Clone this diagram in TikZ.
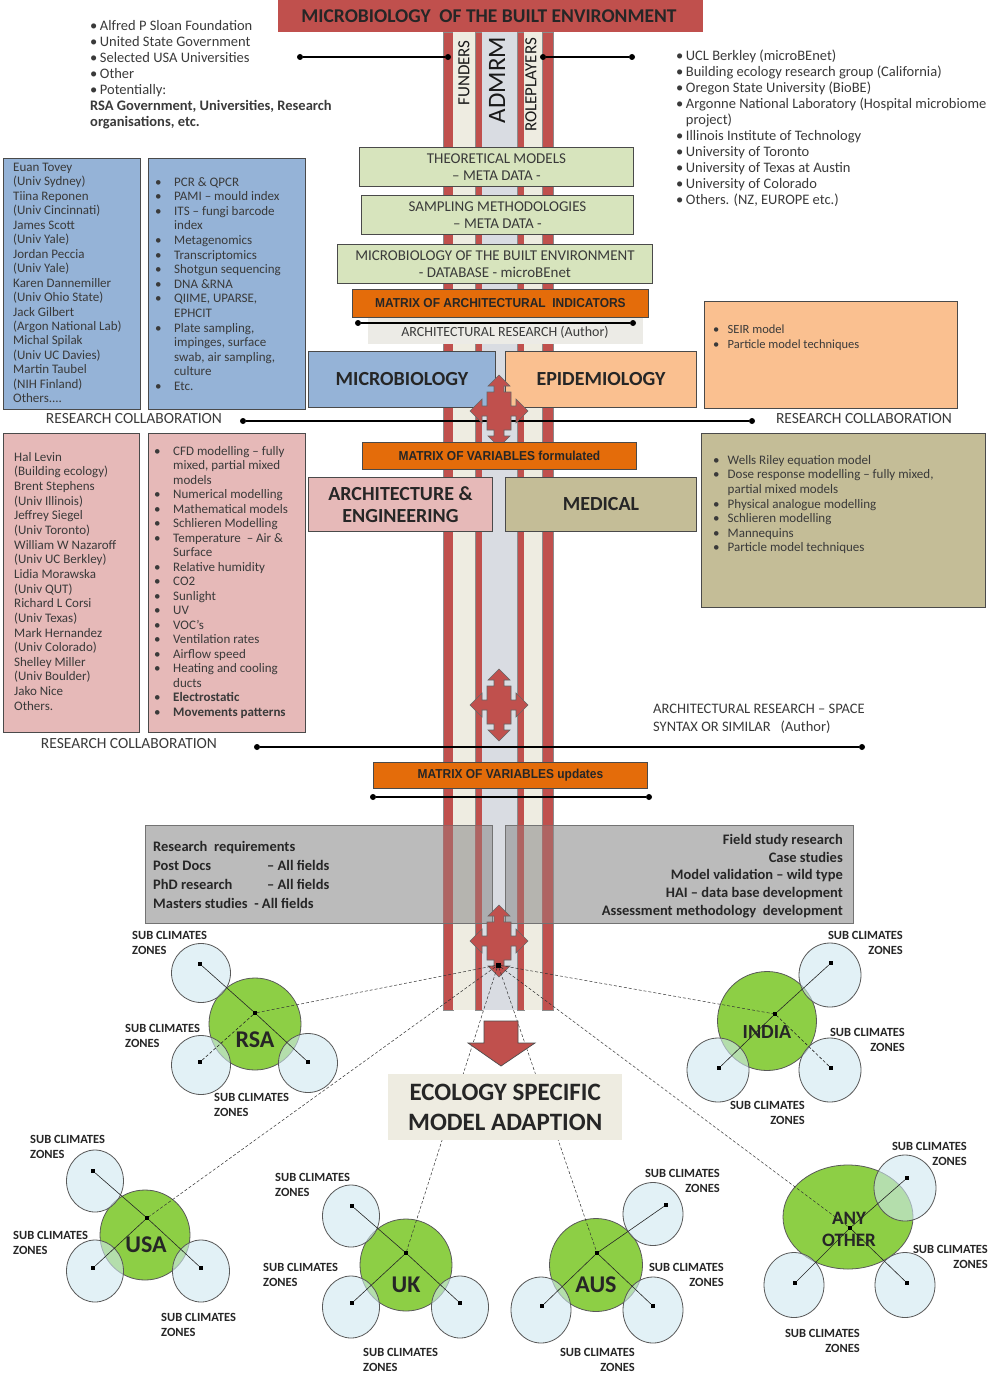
\documentclass[tikz,border=0pt]{standalone}
\usepackage{fontspec}
\setmainfont{Carlito}
\newfontfamily\arialf{Liberation Sans}
\usetikzlibrary{shapes.geometric}
\definecolor{redc}{HTML}{C0504D}
\definecolor{beigec}{HTML}{EEECE1}
\definecolor{colgrey}{HTML}{D9DCE2}
\definecolor{greenb}{HTML}{D7E4BD}
\definecolor{orangec}{HTML}{E46C0A}
\definecolor{bluebx}{HTML}{95B3D7}
\definecolor{peachc}{HTML}{FAC090}
\definecolor{pinkc}{HTML}{E6B9B8}
\definecolor{olivec}{HTML}{C4BD97}
\definecolor{grayb}{HTML}{8F8F8F}
\definecolor{greenc}{HTML}{8DCF45}
\definecolor{bluelc}{HTML}{CFE8F1}
\definecolor{txtc}{HTML}{3A3A3A}
\definecolor{bordc}{HTML}{4A4A4A}
\definecolor{archbg}{HTML}{ECEBE6}
\newcommand\fs[2]{\fontsize{#1}{#2}\selectfont}
\newcommand\bua{\makebox[19pt][l]{•}}
\newcommand\bxa{\hspace*{19pt}}
\newcommand\bub{\makebox[14.5pt][l]{•}}
\newcommand\bxb{\hspace*{14.5pt}}
\newcommand\orng[1]{\scalebox{0.92}[1]{\arialf\bfseries #1}}
\begin{document}
\begin{tikzpicture}[x=1pt,y=-1pt,
  lbl/.style={inner sep=0pt, text=txtc},
  boxn/.style={draw=bordc, line width=0.9pt, inner sep=0pt, anchor=north west},
  dotn/.style={circle, fill=black, inner sep=0pt, minimum size=6pt},
  sq/.style={fill=black, inner sep=0pt, minimum size=4pt},
  gcirc/.style={circle, draw=black!65, line width=0.8pt, fill=greenc, inner sep=0pt},
  gell/.style={ellipse, draw=black!65, line width=0.8pt, fill=greenc, inner sep=0pt},
  bcirc/.style={ellipse, draw=black!65, line width=0.8pt, fill=bluelc, fill opacity=0.6, inner sep=0pt},
  sub/.style={inner sep=0pt, font=\bfseries\fs{12.5}{15}, text=black!85},
  cty/.style={inner sep=0pt, font=\bfseries\fs{24}{26}, text=black!85},
  hubl/.style={densely dashed, line width=0.5pt, black!80},
  inl/.style={line width=0.6pt, black!85},
  conn/.style={line width=1.2pt, black},
  bar/.style={fill=redc, draw=black!45, line width=0.4pt},
  qarrow/.pic={\filldraw[fill=redc, draw=black!60, line width=0.6pt]
    (0,-36) -- (11,-25) -- (5,-25) -- (5,-19) -- (12,-19) -- (12,-5) -- (17,-5) -- (17,-12) -- (29,0) -- (17,12) -- (17,5) -- (12,5) -- (12,19) -- (5,19) -- (5,25) -- (11,25) -- (0,36) -- (-11,25) -- (-5,25) -- (-5,19) -- (-12,19) -- (-12,5) -- (-17,5) -- (-17,12) -- (-29,0) -- (-17,-12) -- (-17,-5) -- (-12,-5) -- (-12,-19) -- (-5,-19) -- (-5,-25) -- (-11,-25) -- cycle;}
]
\useasboundingbox (0,0) rectangle (988,1375);
\fill[white] (0,0) rectangle (988,1375);

% ---------- central column ----------
\filldraw[bar] (443,32) rectangle (453,1010);
\fill[beigec] (453,32) rectangle (475,1010);
\filldraw[bar] (475,32) rectangle (482,1010);
\fill[colgrey] (482,32) rectangle (517,1010);
\filldraw[bar] (517,32) rectangle (524,1010);
\fill[beigec] (524,32) rectangle (542,1010);
\filldraw[bar] (542,32) rectangle (553,1010);

% ---------- banner ----------
\node[fill=redc, inner sep=0pt, minimum width=425pt, minimum height=32pt, anchor=north west] (banner) at (278,0) {};
\node[inner sep=0pt, font=\bfseries\fs{19.5}{22}, text=black!85] (bannert) at (489,16) {MICROBIOLOGY\ \ OF THE BUILT ENVIRONMENT};

\node[lbl, rotate=90, font=\fs{17}{18}, text=black!90] (funders) at (464,73) {FUNDERS};
\node[lbl, rotate=90, font=\fs{25}{26}, text=black!90] (admrm) at (497,80) {ADMRM};
\node[lbl, rotate=90, font=\fs{17}{18}, text=black!90] (roleplayers) at (531,85) {ROLEPLAYERS};

% ---------- top texts ----------
\node[lbl, anchor=north west, align=left, font=\fs{14.5}{16}] (fundtxt) at (90,20) {•\hspace{2.5pt}Alfred P Sloan Foundation\\ •\hspace{2.5pt}United State Government\\ •\hspace{2.5pt}Selected USA Universities\\ •\hspace{2.5pt}Other\\ •\hspace{2.5pt}Potentially:\\ \textbf{RSA Government, Universities, Research}\\ \textbf{organisations, etc.}};
\node[lbl, anchor=north west, align=left, font=\fs{14.5}{16}] (roletxt) at (676,50) {•\hspace{2.5pt}UCL Berkley (microBEnet)\\ •\hspace{2.5pt}Building ecology research group (California)\\ •\hspace{2.5pt}Oregon State University (BioBE)\\ •\hspace{2.5pt}Argonne National Laboratory (Hospital microbiome\\ \phantom{•}\hspace{2.5pt}project)\\ •\hspace{2.5pt}Illinois Institute of Technology\\ •\hspace{2.5pt}University of Toronto\\ •\hspace{2.5pt}University of Texas at Austin\\ •\hspace{2.5pt}University of Colorado\\ •\hspace{2.5pt}Others. (NZ, EUROPE etc.)};
\node[dotn] (fd1) at (300,57) {};
\node[dotn] (fd2) at (448,57) {};
\draw[conn] (fd1) -- (fd2);
\node[dotn] (rd1) at (543,57) {};
\node[dotn] (rd2) at (632,57) {};
\draw[conn] (rd1) -- (rd2);

% ---------- green boxes ----------
\node[boxn, fill=greenb, minimum width=274pt, minimum height=39pt] (theo) at (359,147) {};
\node[lbl, align=center, font=\fs{15}{17.5}] (theot) at (theo.center) {THEORETICAL MODELS\\ – META DATA -};
\node[boxn, fill=greenb, minimum width=272pt, minimum height=39pt] (samp) at (361,195) {};
\node[lbl, align=center, font=\fs{15}{17.5}] (sampt) at (samp.center) {SAMPLING\ METHODOLOGIES\\ – META DATA -};
\node[boxn, fill=greenb, minimum width=315pt, minimum height=39pt] (mdb) at (337,244) {};
\node[lbl, align=center, font=\fs{15}{17.5}] (mdbt) at (mdb.center) {MICROBIOLOGY OF THE BUILT ENVIRONMENT\\ - DATABASE - microBEnet};

\node[boxn, fill=orangec, minimum width=296pt, minimum height=28pt] (mai) at (352,289) {};
\node[inner sep=0pt, font=\fs{13}{15}, text=black!85] (mait) at (mai.center) {\orng{MATRIX OF ARCHITECTURAL\ \ INDICATORS}};
\node[fill=archbg, inner sep=0pt, minimum width=275pt, minimum height=26pt, anchor=north west] (arch) at (368,318) {};
\node[lbl, font=\fs{14}{16}] (archt) at (505,332) {ARCHITECTURAL RESEARCH (Author)};
\node[dotn] (ad1) at (358,323) {};
\node[dotn] (ad2) at (633,323) {};
\draw[conn] (ad1) -- (ad2);

% ---------- research collaboration 1 ----------
\node[boxn, fill=bluebx, minimum width=137pt, minimum height=251pt] (blue1) at (3,158) {};
\node[lbl, anchor=north west, align=left, font=\fs{13}{14.45}] (blue1t) at (13,163) {Euan Tovey\\(Univ Sydney)\\Tiina Reponen\\(Univ Cincinnati)\\James Scott\\(Univ Yale)\\Jordan Peccia\\(Univ Yale)\\Karen Dannemiller\\(Univ Ohio State)\\Jack Gilbert\\(Argon National Lab)\\Michal Spilak\\(Univ UC Davies)\\Martin Taubel\\(NIH Finland)\\Others....};
\node[boxn, fill=bluebx, minimum width=157pt, minimum height=251pt] (blue2) at (148,158) {};
\node[lbl, anchor=north west, align=left, font=\fs{13}{14.6}] (blue2t) at (155,177) {\bua PCR \& QPCR\\ \bua PAMI – mould index\\ \bua ITS – fungi barcode\\ \bxa index\\ \bua Metagenomics\\ \bua Transcriptomics\\ \bua Shotgun sequencing\\ \bua DNA \&RNA\\ \bua QIIME, UPARSE,\\ \bxa EPHCIT\\ \bua Plate sampling,\\ \bxa impinges, surface\\ \bxa swab, air sampling,\\ \bxa culture\\ \bua Etc.};

\node[boxn, fill=peachc, minimum width=253pt, minimum height=107pt] (peach) at (704,301) {};
\node[lbl, anchor=north west, align=left, font=\fs{12.5}{15}] (peacht) at (713,325) {\bub SEIR model\\ \bub Particle model techniques};

\node[lbl, font=\fs{15.5}{17}] (rc1l) at (134,419) {RESEARCH COLLABORATION};
\node[lbl, font=\fs{15.5}{17}] (rc1r) at (864,419) {RESEARCH COLLABORATION};
\node[dotn] (rc1a) at (243,421) {};
\node[dotn] (rc1b) at (752,421) {};
\draw[conn] (rc1a) -- (rc1b);

\node[boxn, fill=bluebx, minimum width=187pt, minimum height=56pt] (micro) at (308,351) {};
\node[inner sep=0pt, font=\bfseries\fs{20}{22}, text=black!85] (microt) at (micro.center) {MICROBIOLOGY};
\node[boxn, fill=peachc, minimum width=191pt, minimum height=56pt] (epi) at (505,351) {};
\node[inner sep=0pt, font=\bfseries\fs{20}{22}, text=black!85] (epit) at (epi.center) {EPIDEMIOLOGY};
\pic at (499,411) {qarrow};

% ---------- research collaboration 2 ----------
\node[boxn, fill=pinkc, minimum width=136pt, minimum height=299pt] (pink1) at (3,433) {};
\node[lbl, anchor=north west, align=left, font=\fs{13}{14.65}] (pink1t) at (14,452) {Hal Levin\\(Building ecology)\\Brent Stephens\\(Univ Illinois)\\Jeffrey Siegel\\(Univ Toronto)\\William W Nazaroff\\(Univ UC Berkley)\\Lidia Morawska\\(Univ QUT)\\Richard L Corsi\\(Univ Texas)\\Mark Hernandez\\(Univ Colorado)\\Shelley Miller\\(Univ Boulder)\\Jako Nice\\Others.};
\node[boxn, fill=pinkc, minimum width=157pt, minimum height=299pt] (pink2) at (148,433) {};
\node[lbl, anchor=north west, align=left, font=\fs{13}{14.5}] (pink2t) at (154,446) {\bua CFD modelling – fully\\ \bxa mixed, partial mixed\\ \bxa models\\ \bua Numerical modelling\\ \bua Mathematical models\\ \bua Schlieren Modelling\\ \bua Temperature\ \ – Air \&\\ \bxa Surface\\ \bua Relative humidity\\ \bua CO2\\ \bua Sunlight\\ \bua UV\\ \bua VOC’s\\ \bua Ventilation rates\\ \bua Airflow speed\\ \bua Heating and cooling\\ \bxa ducts\\ \bua \textbf{Electrostatic}\\ \bua \textbf{Movements patterns}};

\node[boxn, fill=olivec, minimum width=284pt, minimum height=174pt] (olive) at (701,433) {};
\node[lbl, anchor=north west, align=left, font=\fs{13}{14.6}] (olivet) at (713,455) {\bub Wells Riley equation model\\ \bub Dose response modelling – fully mixed,\\ \bxb partial mixed models\\ \bub Physical analogue modelling\\ \bub Schlieren modelling\\ \bub Mannequins\\ \bub Particle model techniques};

\node[boxn, fill=orangec, minimum width=274pt, minimum height=27pt] (mvf) at (362,442) {};
\node[inner sep=0pt, font=\fs{13}{15}, text=black!85] (mvft) at (mvf.center) {\orng{MATRIX OF VARIABLES\ formulated}};
\node[boxn, fill=pinkc, minimum width=184pt, minimum height=54pt] (archeng) at (308,477) {};
\node[inner sep=0pt, align=center, font=\bfseries\fs{20}{21.5}, text=black!85] (archengt) at (archeng.center) {ARCHITECTURE \&\\ ENGINEERING};
\node[boxn, fill=olivec, minimum width=191pt, minimum height=54pt] (medical) at (505,477) {};
\node[inner sep=0pt, font=\bfseries\fs{20}{22}, text=black!85] (medicalt) at (medical.center) {MEDICAL};

\pic at (499,705) {qarrow};
\node[lbl, anchor=north west, align=left, font=\fs{14.5}{17.5}] (spacet) at (653,704) {ARCHITECTURAL RESEARCH – SPACE\\ SYNTAX OR SIMILAR\ \ \ (Author)};
\node[lbl, font=\fs{15.5}{17}] (rc2l) at (129,744) {RESEARCH COLLABORATION};
\node[dotn] (rc2a) at (257,747) {};
\node[dotn] (rc2b) at (862,747) {};
\draw[conn] (rc2a) -- (rc2b);

\node[boxn, fill=orangec, minimum width=274pt, minimum height=26pt] (mvu) at (373,762) {};
\node[inner sep=0pt, font=\fs{13}{15}, text=black!85] (mvut) at (mvu.center) {\orng{MATRIX OF VARIABLES\ updates}};
\node[dotn] (ud1) at (373,797) {};
\node[dotn] (ud2) at (649,797) {};
\draw[conn] (ud1) -- (ud2);

% ---------- research requirements ----------
\node[boxn, draw=black!55, fill=grayb, fill opacity=0.6, minimum width=347pt, minimum height=98pt] (reqL) at (145,825) {};
\node[boxn, draw=black!55, fill=grayb, fill opacity=0.6, minimum width=348pt, minimum height=98pt] (reqR) at (505,825) {};
\fill[redc, fill opacity=0.45] (443,825) rectangle (453,923);
\fill[redc, fill opacity=0.45] (475,825) rectangle (482,923);
\fill[redc, fill opacity=0.45] (517,825) rectangle (524,923);
\fill[redc, fill opacity=0.45] (542,825) rectangle (553,923);
\node[lbl, anchor=north west, align=left, font=\bfseries\fs{14.5}{19}, text=black!85] (reqLt) at (153,841) {Research\ \ requirements\\ \makebox[114pt][l]{Post Docs}– All fields\\ \makebox[114pt][l]{PhD research}– All fields\\ Masters studies\ \ - All fields};
\node[lbl, anchor=north east, align=right, font=\bfseries\fs{14.5}{17.8}, text=black!85] (reqRt) at (843,834) {Field study research\\ Case studies\\ Model validation – wild type\\ HAI – data base development\\ Assessment methodology\ \ development};

\pic at (499,941) {qarrow};
\node[sq, minimum size=5pt] (hub) at (498,965) {};

% ---------- countries ----------
% RSA
\node[gcirc, minimum size=92pt] (rsa) at (255,1024) {};
\node[bcirc, minimum width=59pt, minimum height=59pt] (rsa1) at (201,973) {};
\node[bcirc, minimum width=59pt, minimum height=59pt] (rsa2) at (201,1065) {};
\node[bcirc, minimum width=59pt, minimum height=59pt] (rsa3) at (308,1063) {};
\node[cty] (rsat) at (255,1040) {RSA};
\node[sq] (rsad) at (255,1013) {};
\node[sq] (rsad1) at (200,964) {};
\node[sq] (rsad2) at (200,1062) {};
\node[sq] (rsad3) at (308,1062) {};
\draw[inl] (rsad1) -- (rsad) -- (rsad3);
\draw[inl, densely dashed] (rsad2) -- (rsad);
\node[sub, anchor=north west, align=left] (rsas1) at (132,931) {SUB CLIMATES\\ZONES};
\node[sub, anchor=north west, align=left] (rsas2) at (125,1024) {SUB CLIMATES\\ZONES};
\node[sub, anchor=north west, align=left] (rsas3) at (214,1093) {SUB CLIMATES\\ZONES};

% INDIA
\node[gcirc, minimum size=99pt] (ind) at (767,1021) {};
\node[bcirc, minimum width=62pt, minimum height=64pt] (ind1) at (830,975) {};
\node[bcirc, minimum width=62pt, minimum height=64pt] (ind2) at (718,1070) {};
\node[bcirc, minimum width=62pt, minimum height=64pt] (ind3) at (830,1070) {};
\node[cty, font=\bfseries\fs{20}{22}] (indt) at (767,1032) {INDIA};
\node[sq] (indd) at (775,1014) {};
\node[sq] (indd1) at (831,963) {};
\node[sq] (indd2) at (719,1068) {};
\node[sq] (indd3) at (831,1068) {};
\draw[inl] (indd1) -- (indd) -- (indd2);
\draw[inl, densely dashed] (indd3) -- (indd);
\node[sub, anchor=north east, align=right] (inds1) at (903,931) {SUB CLIMATES\\ZONES};
\node[sub, anchor=north east, align=right] (inds2) at (905,1028) {SUB CLIMATES\\ZONES};
\node[sub, anchor=north east, align=right] (inds3) at (805,1101) {SUB CLIMATES\\ZONES};

% USA
\node[gcirc, minimum size=90pt] (usa) at (145,1235) {};
\node[bcirc, minimum width=57pt, minimum height=62pt] (usa1) at (95,1181) {};
\node[bcirc, minimum width=57pt, minimum height=62pt] (usa2) at (95,1271) {};
\node[bcirc, minimum width=57pt, minimum height=62pt] (usa3) at (201,1271) {};
\node[cty] (usat) at (146,1245) {USA};
\node[sq] (usad) at (147,1218) {};
\node[sq] (usad1) at (93,1171) {};
\node[sq] (usad2) at (93,1268) {};
\node[sq] (usad3) at (201,1268) {};
\draw[inl] (usad1) -- (usad) -- (usad3);
\draw[inl] (usad2) -- (usad);
\node[sub, anchor=north west, align=left] (usas1) at (30,1135) {SUB CLIMATES\\ZONES};
\node[sub, anchor=north west, align=left] (usas2) at (13,1231) {SUB CLIMATES\\ZONES};
\node[sub, anchor=north west, align=left] (usas3) at (161,1313) {SUB CLIMATES\\ZONES};

% UK
\node[gcirc, minimum size=92pt] (uk) at (406,1265) {};
\node[bcirc, minimum width=57pt, minimum height=62pt] (uk1) at (351,1216) {};
\node[bcirc, minimum width=57pt, minimum height=62pt] (uk2) at (351,1307) {};
\node[bcirc, minimum width=57pt, minimum height=62pt] (uk3) at (460,1307) {};
\node[cty] (ukt) at (406,1285) {UK};
\node[sq] (ukd) at (406,1253) {};
\node[sq] (ukd1) at (352,1206) {};
\node[sq] (ukd2) at (352,1303) {};
\node[sq] (ukd3) at (460,1303) {};
\draw[inl] (ukd1) -- (ukd) -- (ukd3);
\draw[inl] (ukd2) -- (ukd);
\node[sub, anchor=north west, align=left] (uks1) at (275,1173) {SUB CLIMATES\\ZONES};
\node[sub, anchor=north west, align=left] (uks2) at (263,1263) {SUB CLIMATES\\ZONES};
\node[sub, anchor=north west, align=left] (uks3) at (363,1348) {SUB CLIMATES\\ZONES};

% AUS
\node[gcirc, minimum size=93pt] (aus) at (596,1265) {};
\node[bcirc, minimum width=60pt, minimum height=63pt] (aus1) at (653,1214) {};
\node[bcirc, minimum width=60pt, minimum height=66pt] (aus2) at (541,1310) {};
\node[bcirc, minimum width=60pt, minimum height=66pt] (aus3) at (653,1310) {};
\node[cty] (aust) at (596,1285) {AUS};
\node[sq] (ausd) at (597,1253) {};
\node[sq] (ausd1) at (666,1205) {};
\node[sq] (ausd2) at (542,1306) {};
\node[sq] (ausd3) at (653,1306) {};
\draw[inl] (ausd1) -- (ausd) -- (ausd2);
\draw[inl] (ausd3) -- (ausd);
\node[sub, anchor=north east, align=right] (auss1) at (720,1169) {SUB CLIMATES\\ZONES};
\node[sub, anchor=north east, align=right] (auss2) at (724,1263) {SUB CLIMATES\\ZONES};
\node[sub, anchor=north east, align=right] (auss3) at (635,1348) {SUB CLIMATES\\ZONES};

% ANY OTHER
\node[gell, minimum width=130pt, minimum height=104pt] (any) at (848,1217) {};
\node[bcirc, minimum width=62pt, minimum height=66pt] (any1) at (905,1188) {};
\node[bcirc, minimum width=60pt, minimum height=65pt] (any2) at (794,1285) {};
\node[bcirc, minimum width=60pt, minimum height=65pt] (any3) at (905,1285) {};
\node[cty, align=center, font=\bfseries\fs{19}{22}] (anyt) at (849,1229) {ANY\\OTHER};
\node[sq] (anyd) at (850,1228) {};
\node[sq] (anyd1) at (907,1178) {};
\node[sq] (anyd2) at (795,1283) {};
\node[sq] (anyd3) at (907,1283) {};
\draw[inl] (anyd1) -- (anyd) -- (anyd2);
\draw[inl] (anyd3) -- (anyd);
\node[sub, anchor=north east, align=right] (anys1) at (967,1142) {SUB CLIMATES\\ZONES};
\node[sub, anchor=north east, align=right] (anys2) at (988,1245) {SUB CLIMATES\\ZONES};
\node[sub, anchor=north east, align=right] (anys3) at (860,1329) {SUB CLIMATES\\ZONES};

% hub lines
\draw[hubl] (hub) -- (rsad);
\draw[hubl] (hub) -- (indd);
\draw[hubl] (hub) -- (usad);
\draw[hubl] (hub) -- (ukd);
\draw[hubl] (hub) -- (ausd);
\draw[hubl] (hub) -- (anyd);

% down arrow
\filldraw[fill=redc, draw=black!70, line width=0.7pt] (484,1021) -- (518,1021) -- (518,1043) -- (535,1043) -- (501,1066) -- (468,1043) -- (484,1043) -- cycle;

% ecology box
\node[fill=beigec, inner sep=0pt, minimum width=234pt, minimum height=66pt, anchor=north west] (eco) at (388,1074) {};
\node[inner sep=0pt, align=center, font=\bfseries\fs{25}{30}, text=black!85] (ecot) at (eco.center) {ECOLOGY SPECIFIC\\ MODEL ADAPTION};
\end{tikzpicture}
\end{document}
